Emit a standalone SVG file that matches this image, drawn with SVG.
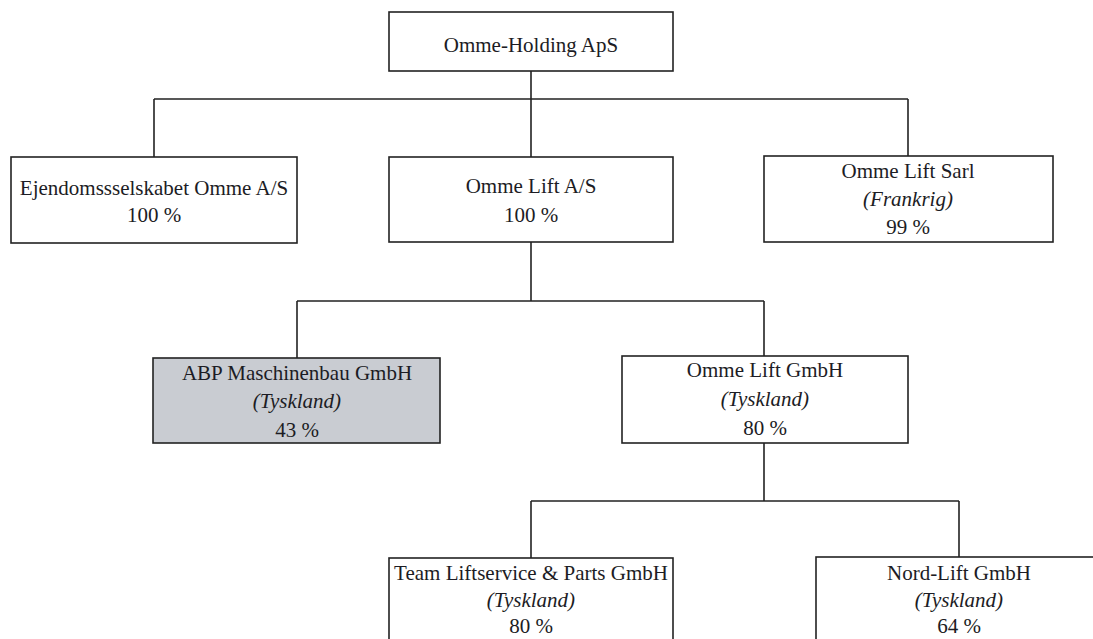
<svg xmlns="http://www.w3.org/2000/svg" width="1093" height="639" viewBox="0 0 1093 639">
<style>
.box{fill:#ffffff;stroke:#222222;stroke-width:1.6}
.grey{fill:#c9ccd2}
.t{font-family:'Liberation Serif','Times New Roman','DejaVu Serif',serif;font-size:21px;fill:#1c1c24;text-anchor:middle}
.i{font-style:italic}
.c{fill:none;stroke:#222222;stroke-width:1.6}
</style>
<rect width="1093" height="639" fill="#ffffff"/>
<g id="connectors">
<path class="c" d="M531,71 V157 M154,99 H908 M154,99 V157 M908,99 V156"/>
<path class="c" d="M531,242 V301 M297,301 H764 M297,301 V358 M764,301 V356"/>
<path class="c" d="M764,443 V501 M531,501 H959 M531,501 V558 M959,501 V558"/>
</g>
<g font-family="Liberation Serif, Times New Roman, serif">
<g id="n-holding">
<rect class="box" x="389" y="12" width="284" height="59"/>
<text class="t" x="531" y="52">Omme-Holding ApS</text>
</g>
<g id="n-ejendom">
<rect class="box" x="11" y="157" width="286" height="86"/>
<text class="t" x="154" y="195">Ejendomssselskabet Omme A/S</text>
<text class="t" x="154" y="222">100 %</text>
</g>
<g id="n-liftas">
<rect class="box" x="389" y="157" width="284" height="85"/>
<text class="t" x="531" y="193">Omme Lift A/S</text>
<text class="t" x="531" y="222">100 %</text>
</g>
<g id="n-sarl">
<rect class="box" x="764" y="156" width="289" height="86"/>
<text class="t" x="908" y="178">Omme Lift Sarl</text>
<text class="t i" x="908" y="206">(Frankrig)</text>
<text class="t" x="908" y="234">99 %</text>
</g>
<g id="n-abp">
<rect class="box grey" x="153" y="358" width="287" height="85"/>
<text class="t" x="297" y="380">ABP Maschinenbau GmbH</text>
<text class="t i" x="297" y="408">(Tyskland)</text>
<text class="t" x="297" y="437">43 %</text>
</g>
<g id="n-gmbh">
<rect class="box" x="622" y="356" width="286" height="87"/>
<text class="t" x="765" y="377">Omme Lift GmbH</text>
<text class="t i" x="765" y="406">(Tyskland)</text>
<text class="t" x="765" y="435">80 %</text>
</g>
<g id="n-team">
<rect class="box" x="389" y="558" width="284" height="100"/>
<text class="t" x="531" y="580">Team Liftservice &amp; Parts GmbH</text>
<text class="t i" x="531" y="607">(Tyskland)</text>
<text class="t" x="531" y="633">80 %</text>
</g>
<g id="n-nord">
<rect class="box" x="816" y="557" width="290" height="100"/>
<text class="t" x="959" y="580">Nord-Lift GmbH</text>
<text class="t i" x="959" y="607">(Tyskland)</text>
<text class="t" x="959" y="633">64 %</text>
</g>
</g>
</svg>
